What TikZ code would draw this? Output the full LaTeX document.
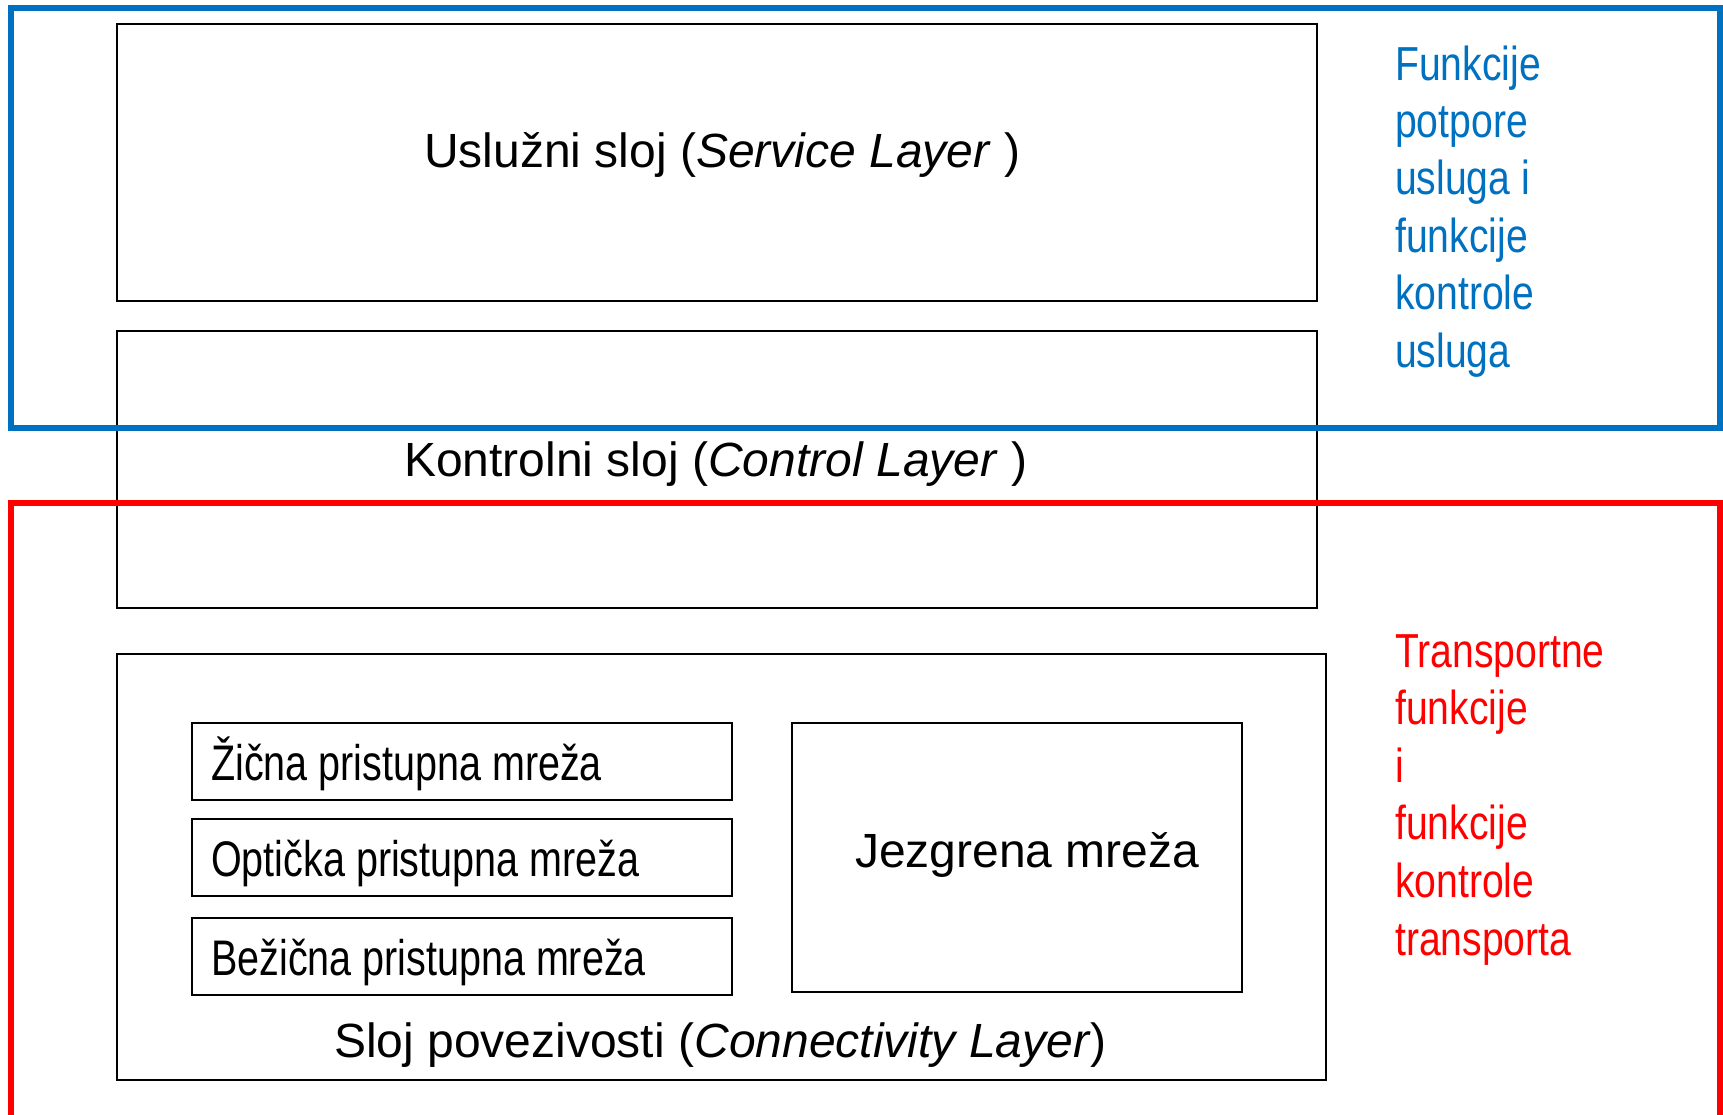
\documentclass[tikz,border=0pt]{standalone}
\usepackage{fontspec}
\setmainfont{Liberation Sans}
\newfontfamily\narrowsans[FakeStretch=0.82]{Liberation Sans}
\newfontfamily\boxsans[FakeStretch=0.79]{Liberation Sans}
\definecolor{frameblue}{HTML}{0070C0}
\definecolor{framered}{HTML}{FF0000}
\begin{document}
\begin{tikzpicture}[x=1pt,y=-1pt,
  box/.style={draw=black, line width=2pt, inner sep=0pt, anchor=north west},
  frame/.style={line width=6pt},
  lbl/.style={inner sep=0pt, anchor=base west, font=\fontsize{48}{57.6}\selectfont},
  blbl/.style={inner sep=0pt, anchor=base west, font=\boxsans\fontsize{50}{60}\selectfont},
  nlbl/.style={inner sep=0pt, anchor=base west, font=\narrowsans\fontsize{47.7}{57.3}\selectfont},
]
\useasboundingbox (0,0) rectangle (1723,1114);

% layer boxes
\node[box, minimum width=1200pt, minimum height=277pt] (service) at (115.5,23) {};
\node[box, minimum width=1200pt, minimum height=277pt] (control) at (115.5,330) {};
\node[box, minimum width=1209pt, minimum height=426pt] (conn) at (115.5,653) {};
\node[box, minimum width=539.5pt, minimum height=77pt] (wired) at (191.2,722) {};
\node[box, minimum width=539.5pt, minimum height=77pt] (optic) at (191.2,817.5) {};
\node[box, minimum width=539.5pt, minimum height=77pt] (wireless) at (191.2,916.5) {};
\node[box, minimum width=449.5pt, minimum height=269pt] (core) at (791.2,722) {};

% labels
\node[lbl] (tservice) at (424,167) {Uslužni sloj (\textit{Service Layer} )};
\node[lbl] (tcontrol) at (404,476) {Kontrolni sloj (\textit{Control Layer} )};
\node[lbl] (tconn) at (334,1057) {Sloj povezivosti (\textit{Connectivity Layer})};
\node[lbl] (tcore) at (855,867) {Jezgrena mreža};
\node[blbl] (twired) at (211,780) {Žična pristupna mreža};
\node[blbl] (toptic) at (211,876) {Optička pristupna mreža};
\node[blbl] (twireless) at (211,975) {Bežična pristupna mreža};

% side texts
\foreach \t [count=\i from 0] in {Funkcije,potpore,usluga i,funkcije,kontrole,usluga}
  \node[nlbl, text=frameblue] (blue\i) at (1395,80+57.4*\i) {\t};
\foreach \t [count=\i from 0] in {Transportne,funkcije,i,funkcije,kontrole,transporta}
  \node[nlbl, text=framered] (red\i) at (1395,667+57.6*\i) {\t};

% frames
\draw[frame, frameblue] (11,8) rectangle (1720,427.5);
\draw[frame, framered] (11,1125) -- (11,503) -- (1720,503) -- (1720,1125);
\end{tikzpicture}
\end{document}
